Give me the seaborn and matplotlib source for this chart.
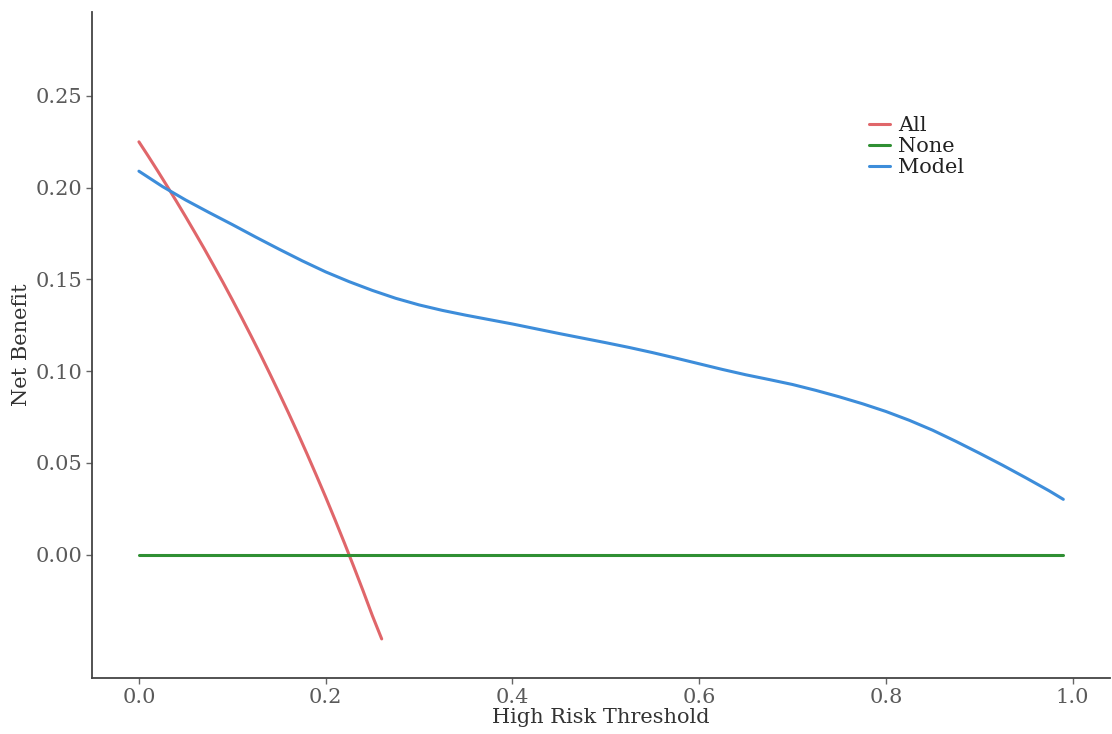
import pandas as pd
import numpy as np
import matplotlib.pyplot as plt
import seaborn as sns

# thresholds / net benefit
all_thr = [0.00, 0.01, 0.02, 0.03, 0.04, 0.05, 0.06, 0.07, 0.08, 0.09, 0.10, 0.11, 0.12, 0.13,
           0.14, 0.15, 0.16, 0.17, 0.18, 0.19, 0.20, 0.21, 0.22, 0.23, 0.24, 0.25, 0.26]
all_nb = [0.2250, 0.2172, 0.2092, 0.2010, 0.1927, 0.1842, 0.1755, 0.1667, 0.1576, 0.1484,
          0.1389, 0.1292, 0.1193, 0.1092, 0.0988, 0.0882, 0.0774, 0.0663, 0.0549, 0.0432,
          0.0313, 0.0190, 0.0064, -0.0065, -0.0197, -0.0333, -0.0460]

none_thr = [0.00, 0.99]
none_nb = [0.0, 0.0]

model_thr = [0.000, 0.025, 0.050, 0.075, 0.100, 0.125, 0.150, 0.175, 0.200, 0.225, 0.250,
             0.275, 0.300, 0.325, 0.350, 0.375, 0.400, 0.425, 0.450, 0.475, 0.500, 0.525,
             0.550, 0.575, 0.600, 0.625, 0.650, 0.675, 0.700, 0.725, 0.750, 0.775, 0.800,
             0.825, 0.850, 0.875, 0.900, 0.925, 0.950, 0.975, 0.990]
model_nb = [0.2090, 0.2007, 0.1933, 0.1865, 0.1799, 0.1731, 0.1665, 0.1601, 0.1541, 0.1488,
            0.1440, 0.1397, 0.1361, 0.1331, 0.1305, 0.1281, 0.1257, 0.1231, 0.1205, 0.1180,
            0.1155, 0.1129, 0.1101, 0.1071, 0.1040, 0.1009, 0.0980, 0.0954, 0.0927, 0.0895,
            0.0860, 0.0822, 0.0780, 0.0732, 0.0678, 0.0617, 0.0553, 0.0487, 0.0418, 0.0347,
            0.0301]

y_ticks = [0.00, 0.05, 0.10, 0.15, 0.20, 0.25]
x_ticks = [0.0, 0.2, 0.4, 0.6, 0.8, 1.0]

df = pd.concat([
    pd.DataFrame({'threshold': all_thr, 'net_benefit': all_nb, 'curve': 'All'}),
    pd.DataFrame({'threshold': none_thr, 'net_benefit': none_nb, 'curve': 'None'}),
    pd.DataFrame({'threshold': model_thr, 'net_benefit': model_nb, 'curve': 'Model'}),
], ignore_index=True)

sns.set_style('white')
plt.rcParams['font.family'] = ['DejaVu Serif']

fig = plt.figure(figsize=(11.12, 7.34), dpi=100)
ax = fig.add_axes([0.0827, 0.0763, 0.9155, 0.9074])

palette = {'All': '#E0666A', 'None': '#2F8F33', 'Model': '#3D8DDA'}
sns.lineplot(data=df, x='threshold', y='net_benefit', hue='curve',
             hue_order=['All', 'None', 'Model'], palette=palette,
             linewidth=2.2, sort=False, estimator=None, ax=ax)

ax.set_xlim(-0.0503, 1.040)
ax.set_ylim(-0.0673, 0.2958)
ax.set_xticks(x_ticks)
ax.set_xticklabels([f'{v:.1f}' for v in x_ticks])
ax.set_yticks(y_ticks)
ax.set_yticklabels([f'{v:.2f}' for v in y_ticks])

for s in ['top', 'right']:
    ax.spines[s].set_visible(False)
for s in ['left', 'bottom']:
    ax.spines[s].set_color('#444444')
    ax.spines[s].set_linewidth(1.3)

ax.tick_params(axis='both', which='major', direction='out', length=4, width=1,
               color='#666666', labelsize=15, labelcolor='#5a5a5a', pad=3)
ax.tick_params(axis='x', bottom=True)
ax.tick_params(axis='y', left=True)

ax.set_xlabel('High Risk Threshold', fontsize=15, color='#333333', labelpad=1)
ax.set_ylabel('Net Benefit', fontsize=15, color='#333333', labelpad=3)

leg = ax.legend(loc='upper left', bbox_to_anchor=(0.755, 0.856), frameon=False,
                fontsize=15, handlelength=1.0, handletextpad=0.4, labelspacing=0.1,
                borderaxespad=0)
for t in leg.get_texts():
    t.set_color('#222222')

plt.savefig('out.png', dpi=100)
